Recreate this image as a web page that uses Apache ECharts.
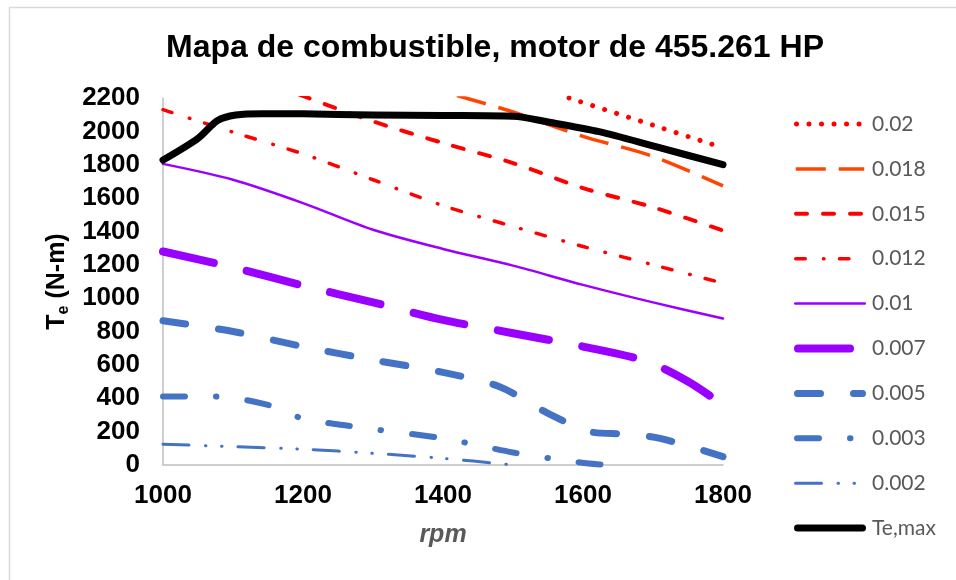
<!DOCTYPE html>
<html><head><meta charset="utf-8">
<script src="https://cdn.jsdelivr.net/npm/echarts@6/dist/echarts.min.js"></script>
<style>html,body{margin:0;padding:0;background:#fff}#c{width:956px;height:580px}</style>
</head><body><div id="c"></div>
<script>
const titleText = 'Mapa de combustible, motor de 455.261 HP';
const xTicks = [1000, 1200, 1400, 1600, 1800];
const yTicks = [0, 200, 400, 600, 800, 1000, 1200, 1400, 1600, 1800, 2000, 2200];
const seriesNames = ['0.02', '0.018', '0.015', '0.012', '0.01', '0.007', '0.005', '0.003', '0.002', 'Te,max'];
// [rpm, torque] pairs
const s002 = [[1580, 2200], [1700, 2037], [1790, 1915]];
const s0018 = [[1420, 2215], [1500, 2116], [1600, 1970], [1700, 1850], [1800, 1673]];
const s0015 = [[1195, 2220], [1300, 2060], [1400, 1930], [1500, 1810], [1600, 1660], [1700, 1545], [1800, 1405]];
const s0012 = [[1000, 2130], [1100, 1995], [1200, 1865], [1300, 1710], [1400, 1555], [1500, 1430], [1600, 1310], [1700, 1200], [1800, 1090]];
const s001 = [[1000, 1805], [1100, 1710], [1200, 1570], [1300, 1410], [1400, 1295], [1500, 1195], [1600, 1080], [1700, 975], [1800, 878]];
const s0007 = [[1000, 1280], [1100, 1185], [1200, 1075], [1300, 975], [1400, 870], [1500, 790], [1600, 710], [1690, 622], [1750, 500], [1800, 360]];
const s0005 = [[1000, 865], [1100, 800], [1200, 710], [1300, 630], [1400, 555], [1480, 470], [1550, 310], [1610, 200], [1660, 185], [1710, 160], [1800, 50]];
const s0003 = [[1000, 410], [1075, 410], [1150, 360], [1200, 278], [1260, 238], [1300, 215], [1400, 160], [1450, 118], [1500, 75], [1570, 30], [1620, 5], [1660, 0]];
const s0002 = [[1000, 125], [1100, 110], [1200, 95], [1300, 70], [1400, 40], [1500, 0]];
const sTemax = [[1000, 1828], [1050, 1958], [1078, 2065], [1104, 2098], [1142, 2106], [1200, 2105], [1300, 2098], [1400, 2095], [1500, 2090], [1550, 2056], [1623, 1998], [1704, 1908], [1800, 1800]];

const red = '#FF0000', orange = '#FF4500', purple = '#9900FF', blue = '#4472C4';
const styles = [
  {d: s002, color: red, width: 5, type: [0.01, 12.5], cap: 'round'},
  {d: s0018, color: orange, width: 3.5, type: [30, 13], cap: 'butt'},
  {d: s0015, color: red, width: 4, type: [11, 16], cap: 'round'},
  {d: s0012, color: red, width: 3.5, type: [9.5, 18.2, 0.5, 15.5], cap: 'round'},
  {d: s001, color: purple, width: 2.5, type: 'solid', cap: 'round'},
  {d: s0007, color: purple, width: 8, type: [52, 34], cap: 'round'},
  {d: s0005, color: blue, width: 7, type: [23, 33], cap: 'round'},
  {d: s0003, color: blue, width: 6, type: [22, 31, 0.5, 31], cap: 'round'},
  {d: s0002, color: blue, width: 3, type: [26, 16.5, 0.5, 15.5, 0.5, 16.25], cap: 'round'},
  {d: sTemax, color: '#000000', width: 7, type: 'solid', cap: 'round'}
];

// legend built as graphic elements so the dash patterns and widths match the series
const legendLeft = 794, legendTop = 124, legendStep = 44.9, legendLen = 72;
const legendGraphics = [];
styles.forEach((s, i) => {
  const y = legendTop + i * legendStep;
  legendGraphics.push({
    type: 'line', silent: true,
    shape: {x1: legendLeft + s.width / 2, y1: y, x2: legendLeft + legendLen - s.width / 2, y2: y},
    style: {stroke: s.color, lineWidth: s.width, lineDash: s.type === 'solid' ? null : s.type, lineCap: s.cap}
  });
  legendGraphics.push({
    type: 'text', silent: true, x: legendLeft + legendLen + 6, y: y,
    style: {text: seriesNames[i], fill: '#595959', font: '21px Lato, "Noto Sans", sans-serif', verticalAlign: 'middle', align: 'left'}
  });
});

const chart = echarts.init(document.getElementById('c'), null, {renderer: 'canvas'});
chart.setOption({
  backgroundColor: '#ffffff',
  animation: false,
  graphic: [{type: 'rect', silent: true, shape: {x: 9.5, y: 7.5, width: 1000, height: 1000}, style: {fill: 'none', stroke: '#d9d9d9', lineWidth: 1.5}}].concat(legendGraphics),
  title: {text: titleText, left: 161, top: 27, textStyle: {fontFamily: 'Liberation Sans, Arial', fontWeight: 'bold', fontSize: 32, color: '#000'}},
  grid: {left: 163, right: 233, top: 98, bottom: 115, containLabel: false},
  xAxis: {
    type: 'value', min: xTicks[0], max: xTicks[xTicks.length - 1], interval: 200,
    name: 'rpm', nameLocation: 'middle', nameGap: 58,
    nameTextStyle: {fontFamily: 'Liberation Sans, Arial', fontWeight: 'bold', fontStyle: 'italic', fontSize: 25, color: '#595959'},
    axisLine: {show: true, lineStyle: {color: '#bfbfbf', width: 1.5}},
    axisTick: {show: false}, splitLine: {show: false},
    axisLabel: {margin: 18, fontFamily: 'Liberation Sans, Arial', fontWeight: 'bold', fontSize: 26, color: '#000', formatter: v => String(v)}
  },
  yAxis: {
    type: 'value', min: yTicks[0], max: yTicks[yTicks.length - 1], interval: 200,
    name: '{a|T}{b|e}{a| (N-m)}', nameLocation: 'middle', nameGap: 71, nameRotate: 90,
    nameTextStyle: {
      rich: {
        a: {fontFamily: 'Liberation Sans, Arial', fontWeight: 'bold', fontSize: 25, color: '#000', lineHeight: 28},
        b: {fontFamily: 'Liberation Sans, Arial', fontWeight: 'bold', fontSize: 16, color: '#000', lineHeight: 8, verticalAlign: 'bottom'}
      }
    },
    axisLine: {show: true, lineStyle: {color: '#bfbfbf', width: 1.5}},
    axisTick: {show: false}, splitLine: {show: false},
    axisLabel: {margin: 23, fontFamily: 'Liberation Sans, Arial', fontWeight: 'bold', fontSize: 26, color: '#000', formatter: v => String(v)}
  },
  series: styles.map((s, i) => ({
    name: seriesNames[i], type: 'line', data: s.d, smooth: 0.3, symbol: 'none', clip: true,
    lineStyle: {color: s.color, width: s.width, type: s.type, cap: s.cap, join: 'round'},
    itemStyle: {color: s.color}
  }))
});
</script></body></html>
